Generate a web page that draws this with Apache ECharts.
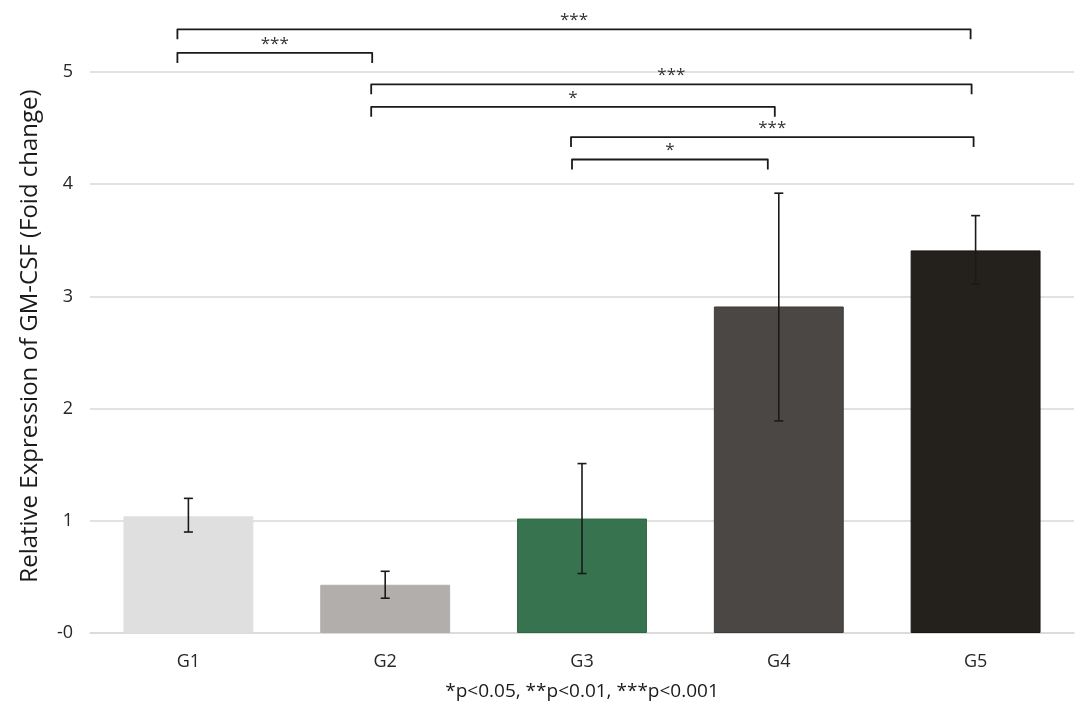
<!DOCTYPE html>
<html><head><meta charset="utf-8">
<script src="https://cdn.jsdelivr.net/npm/echarts@6/dist/echarts.min.js"></script>
<style>html,body{margin:0;padding:0;background:#fff}#c{width:1091px;height:715px}</style>
</head><body><div id="c"></div>
<script>
// ---- data ----
const categories = ['G1', 'G2', 'G3', 'G4', 'G5'];
const means   = [1.04, 0.43, 1.02, 2.91, 3.41];
const errLow  = [0.90, 0.31, 0.53, 1.89, 3.11];
const errHigh = [1.20, 0.55, 1.51, 3.92, 3.72];
const yTicks  = [0, 1, 2, 3, 4, 5];
const bracketFrom  = [0, 0, 1, 1, 2, 2];
const bracketTo    = [4, 1, 4, 3, 4, 3];
const bracketY     = [5.38, 5.17, 4.89, 4.69, 4.42, 4.22];
const bracketLabel = ['***', '***', '***', '*', '***', '*'];
const footnote = '*p<0.05, **p<0.01, ***p<0.001';
const yTitle = 'Relative Expression of GM-CSF (Foid change)';

// ---- styles ----
const barColors  = ['#e0dfdf', '#b1aeac', '#37734e', '#4b4745', '#24201c'];
const barBorders = ['#e0dfdf', '#b1aeac', '#2a6a40', '#3f3b39', '#1a1714'];
const leftNudge  = [-11, -11, -14, -14, -11, -10];
const rightNudge = [-5, -13, -4, -4, -2, -11];
const FONT = '"Open Sans", "Noto Sans", sans-serif';
const INK = '#1a1a1a';

const chart = echarts.init(document.getElementById('c'), null, {renderer: 'canvas'});
chart.setOption({
  backgroundColor: '#ffffff',
  animation: false,
  grid: {left: 90, right: 17, top: 72, bottom: 82, containLabel: false},
  xAxis: {
    type: 'category',
    data: categories,
    axisLine: {show: true, lineStyle: {color: '#d9d9d9', width: 1.5}},
    axisTick: {show: false},
    axisLabel: {color: '#262626', fontSize: 18, fontFamily: FONT, margin: 20}
  },
  yAxis: {
    type: 'value',
    min: yTicks[0],
    max: yTicks[yTicks.length - 1],
    interval: 1,
    axisLine: {show: false},
    axisTick: {show: false},
    splitLine: {show: true, lineStyle: {color: '#d9d9d9', width: 1.5}},
    axisLabel: {
      color: '#262626', fontSize: 18, fontFamily: FONT, margin: 17,
      formatter: v => (v === 0 ? '-0' : String(v))
    }
  },
  series: [
    {
      type: 'bar',
      barCategoryGap: '34%',
      data: means.map((v, i) => ({
        value: v,
        itemStyle: {color: barColors[i], borderColor: barBorders[i], borderWidth: 1}
      }))
    },
    {
      type: 'custom',
      name: 'err',
      encode: {x: 0, y: [1, 2]},
      data: categories.map((c, i) => [i, errLow[i], errHigh[i]]),
      z: 5,
      renderItem: function (params, api) {
        const x = api.value(0);
        const lo = api.coord([x, api.value(1)]);
        const hi = api.coord([x, api.value(2)]);
        const w = 4.5;
        const st = {stroke: INK, lineWidth: 1.6};
        return {type: 'group', children: [
          {type: 'line', shape: {x1: lo[0], y1: lo[1], x2: hi[0], y2: hi[1]}, style: st},
          {type: 'line', shape: {x1: lo[0] - w, y1: lo[1], x2: lo[0] + w, y2: lo[1]}, style: st},
          {type: 'line', shape: {x1: hi[0] - w, y1: hi[1], x2: hi[0] + w, y2: hi[1]}, style: st}
        ]};
      }
    },
    {
      type: 'custom',
      name: 'brackets',
      clip: false,
      encode: {x: [0, 1], y: 2},
      data: bracketFrom.map((f, i) => [f, bracketTo[i], bracketY[i], i]),
      z: 6,
      renderItem: function (params, api) {
        const i = api.value(3);
        const yv = api.value(2);
        const p1 = api.coord([api.value(0), yv]);
        const p2 = api.coord([api.value(1), yv]);
        const x1 = p1[0] + leftNudge[i];
        const x2 = p2[0] + rightNudge[i];
        const y = p1[1];
        const t = 10;
        return {type: 'group', children: [
          {type: 'polyline',
           shape: {points: [[x1, y + t], [x1, y], [x2, y], [x2, y + t]]},
           style: {stroke: INK, lineWidth: 1.8, fill: null, lineJoin: 'round'}},
          {type: 'text',
           style: {x: (x1 + x2) / 2, y: y - 9, text: bracketLabel[i], fill: '#333',
                   font: '17px ' + FONT, textAlign: 'center', textVerticalAlign: 'middle'}}
        ]};
      }
    }
  ],
  graphic: [
    {type: 'text', x: 30, y: 336, rotation: Math.PI / 2,
     style: {text: yTitle, fill: '#1a1a1a', font: '24px ' + FONT,
             textAlign: 'center', textVerticalAlign: 'middle'}},
    {type: 'text', x: 582, y: 692,
     style: {text: footnote, fill: '#1a1a1a', font: '19px ' + FONT,
             textAlign: 'center', textVerticalAlign: 'middle'}}
  ]
});
</script>
</body></html>
